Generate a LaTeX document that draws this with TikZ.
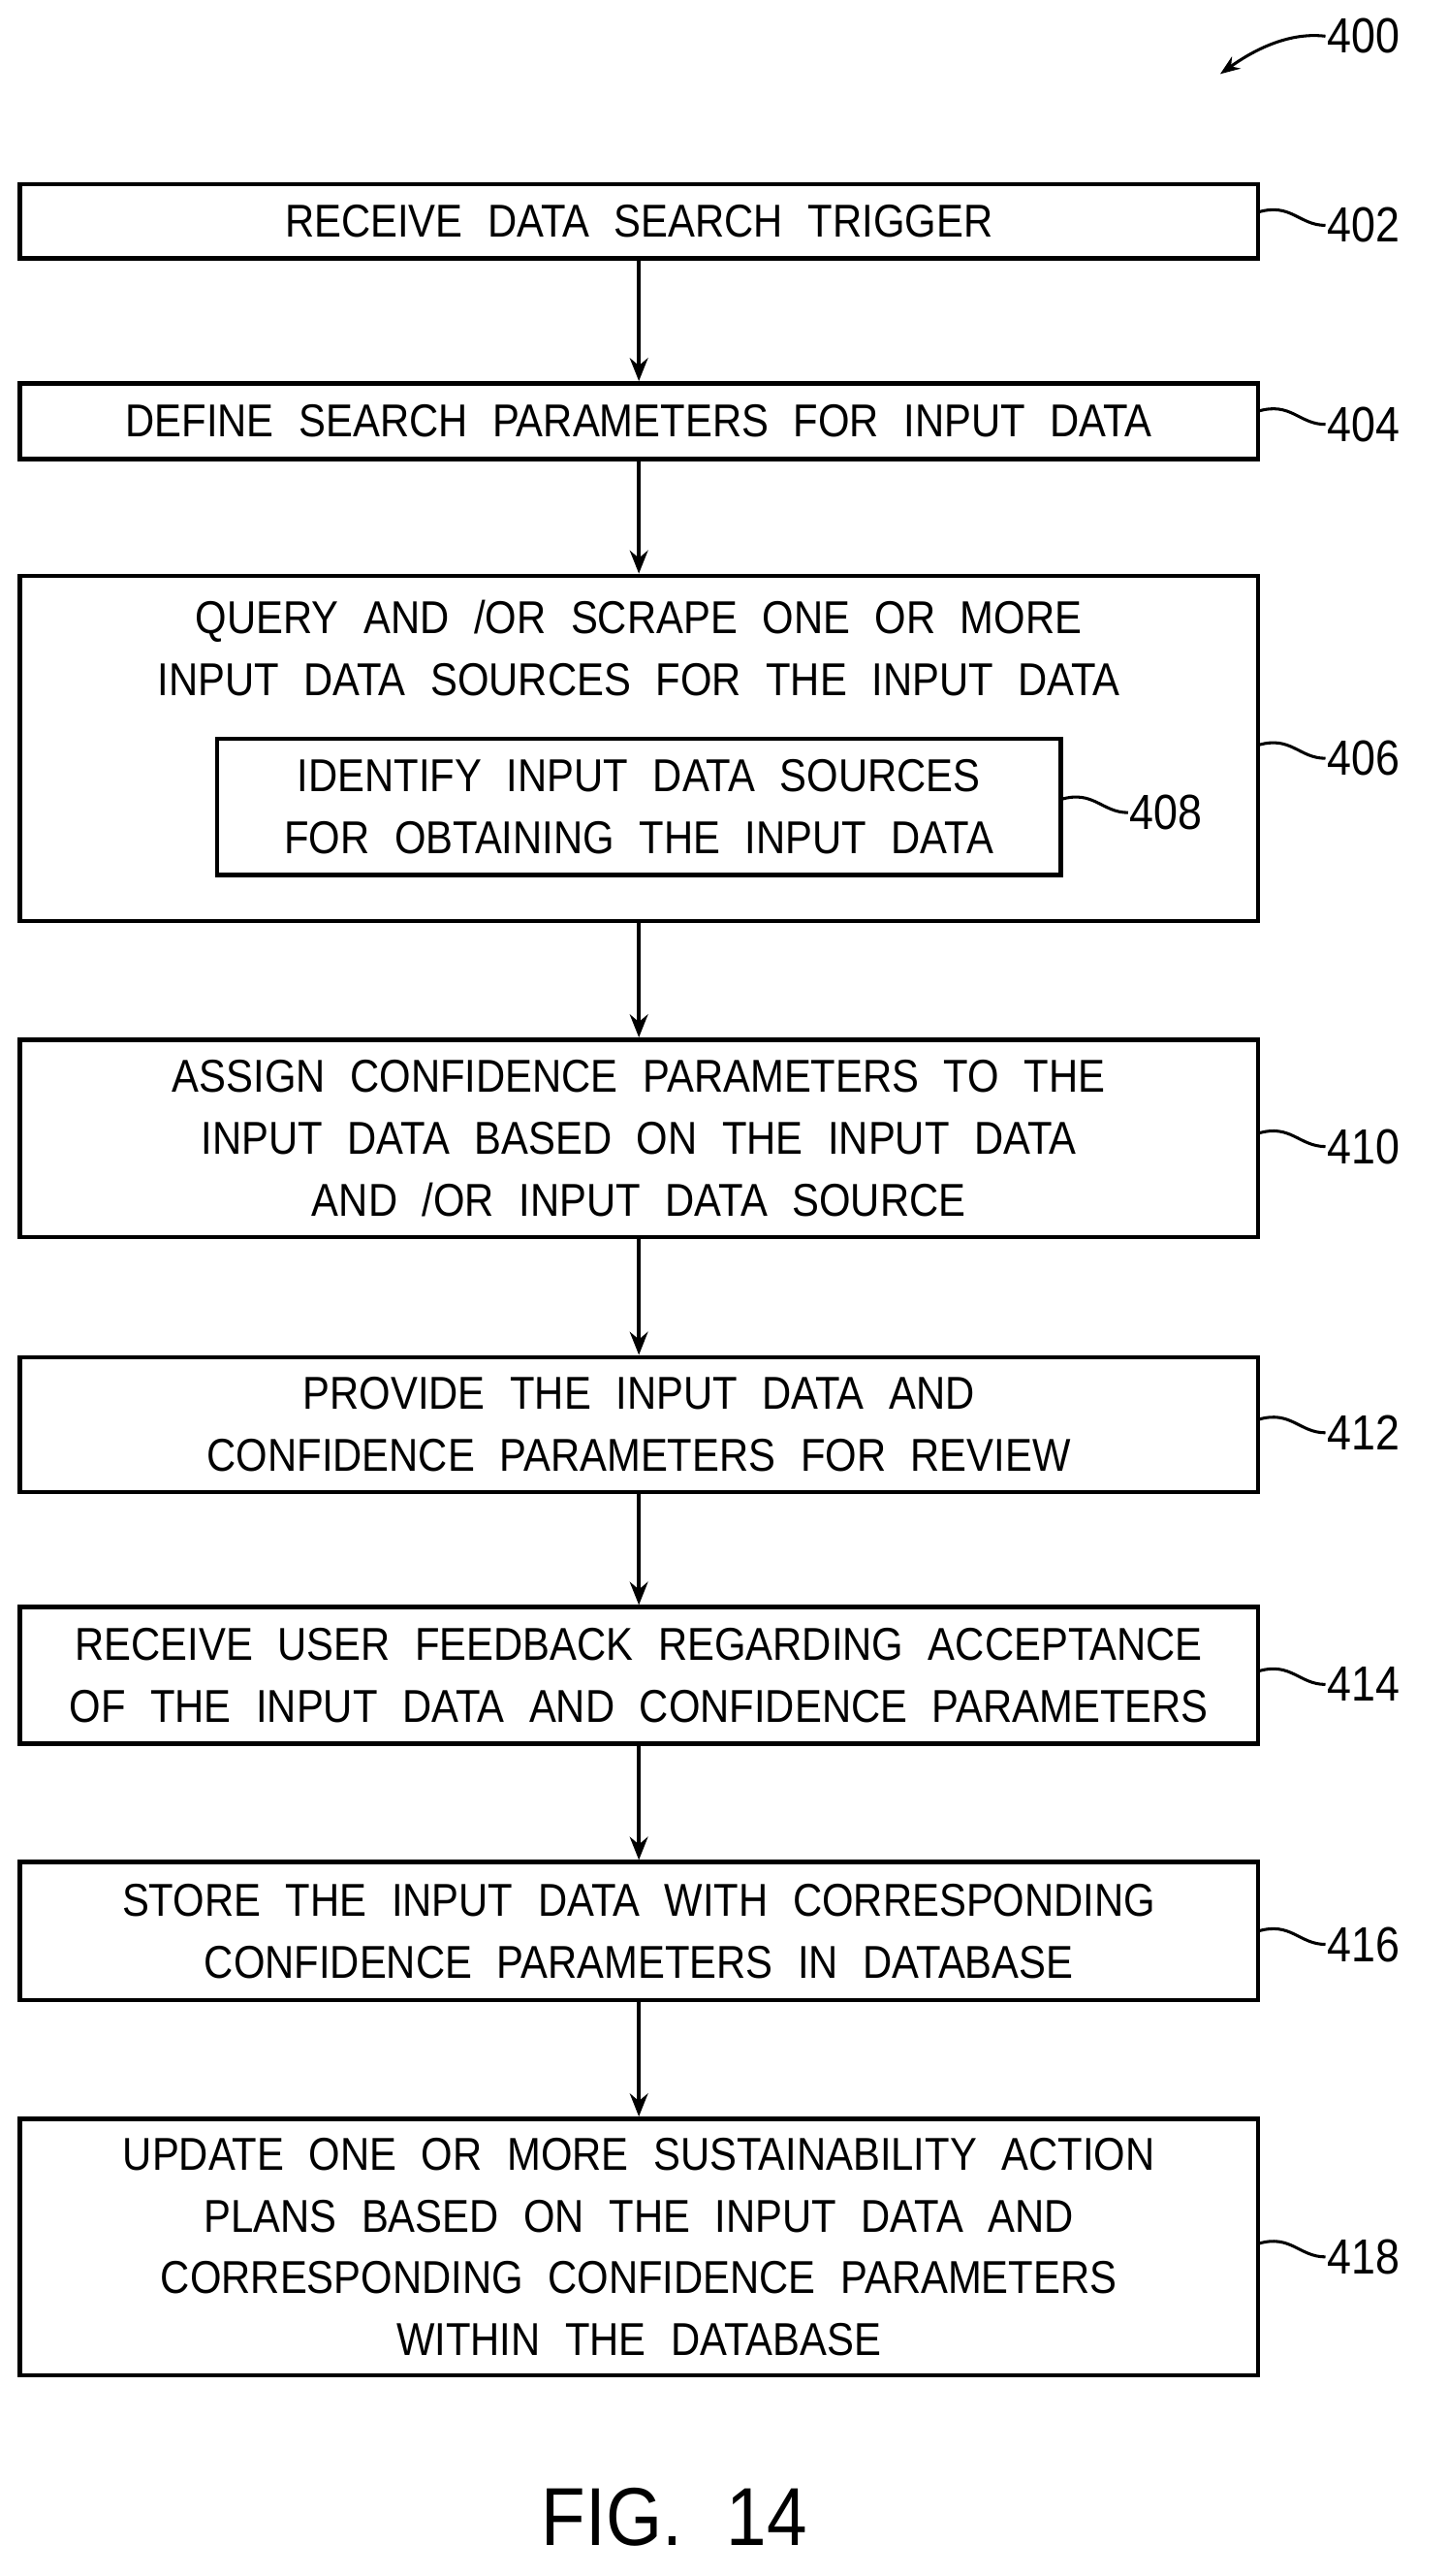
\documentclass[tikz,border=0pt]{standalone}
\usepackage{fontspec}
\setmainfont{Liberation Sans}[WordSpace=2.2,FakeStretch=0.88]
\usetikzlibrary{arrows.meta}
\begin{document}
\begin{tikzpicture}[x=1pt,y=-1pt,
 box/.style={draw,line width=2.6pt,align=center,inner sep=0pt,font=\fontsize{28}{37.5}\selectfont},
 arr/.style={line width=2.6pt,-{Stealth[length=14pt,width=11pt]}},
 lead/.style={line width=1.8pt},
 lab/.style={font=\fontsize{30}{30}\selectfont,anchor=west,inner sep=1pt}]
\useasboundingbox (0,0) rectangle (880,1566);
\node[box,minimum width=753pt,minimum height=45pt] (b402) at (388.5,134.5) {RECEIVE DATA SEARCH TRIGGER};
\node[box,minimum width=753pt,minimum height=46pt] (b404) at (388.5,256) {DEFINE SEARCH PARAMETERS FOR INPUT DATA};
\node[box,minimum width=753pt,minimum height=210pt] (b406) at (388.5,455) {};
\node[font=\fontsize{28}{37.5}\selectfont,align=center] (t406) at (388.5,394) {QUERY AND /OR SCRAPE ONE OR MORE\\INPUT DATA SOURCES FOR THE INPUT DATA};
\node[box,minimum width=513pt,minimum height=83pt] (b408) at (388.5,490.5) {IDENTIFY INPUT DATA SOURCES\\FOR OBTAINING THE INPUT DATA};
\node[box,minimum width=753pt,minimum height=120pt] (b410) at (388.5,692) {ASSIGN CONFIDENCE PARAMETERS TO THE\\INPUT DATA BASED ON THE INPUT DATA\\AND /OR INPUT DATA SOURCE};
\node[box,minimum width=753pt,minimum height=82pt] (b412) at (388.5,866) {PROVIDE THE INPUT DATA AND\\CONFIDENCE PARAMETERS FOR REVIEW};
\node[box,minimum width=753pt,minimum height=83pt] (b414) at (388.5,1018.5) {RECEIVE USER FEEDBACK REGARDING ACCEPTANCE\\OF THE INPUT DATA AND CONFIDENCE PARAMETERS};
\node[box,minimum width=753pt,minimum height=84pt] (b416) at (388.5,1174) {STORE THE INPUT DATA WITH CORRESPONDING\\CONFIDENCE PARAMETERS IN DATABASE};
\node[box,minimum width=753pt,minimum height=156pt] (b418) at (388.5,1366) {UPDATE ONE OR MORE SUSTAINABILITY ACTION\\PLANS BASED ON THE INPUT DATA AND\\CORRESPONDING CONFIDENCE PARAMETERS\\WITHIN THE DATABASE};
\foreach \a/\b in {b402/b404,b404/b406,b406/b410,b410/b412,b412/b414,b414/b416,b416/b418}
 \draw[arr] (\a.south) -- (\b.north);
\foreach \n/\y in {402/137,404/258,406/461,410/697,412/871,414/1024,416/1182,418/1372}{
 \node[lab] (l\n) at (806,\y) {\n};
 \draw[lead] (765,\y-8) .. controls (785,\y-14) and (790,\y) .. (l\n.west);
}
\node[lab] (l408) at (686,494) {408};
\draw[lead] (645,486) .. controls (665,480) and (670,494) .. (l408.west);
\node[lab] (l400) at (806,22) {400};
\coordinate (a400) at (742,45);
\draw[lead,-{Stealth[length=12pt,width=9pt]}] (l400.west) .. controls (790,20) and (770,25) .. (a400);
\node[font=\fontsize{50}{50}\selectfont] (fig) at (410,1530) {FIG. 14};
\end{tikzpicture}
\end{document}
